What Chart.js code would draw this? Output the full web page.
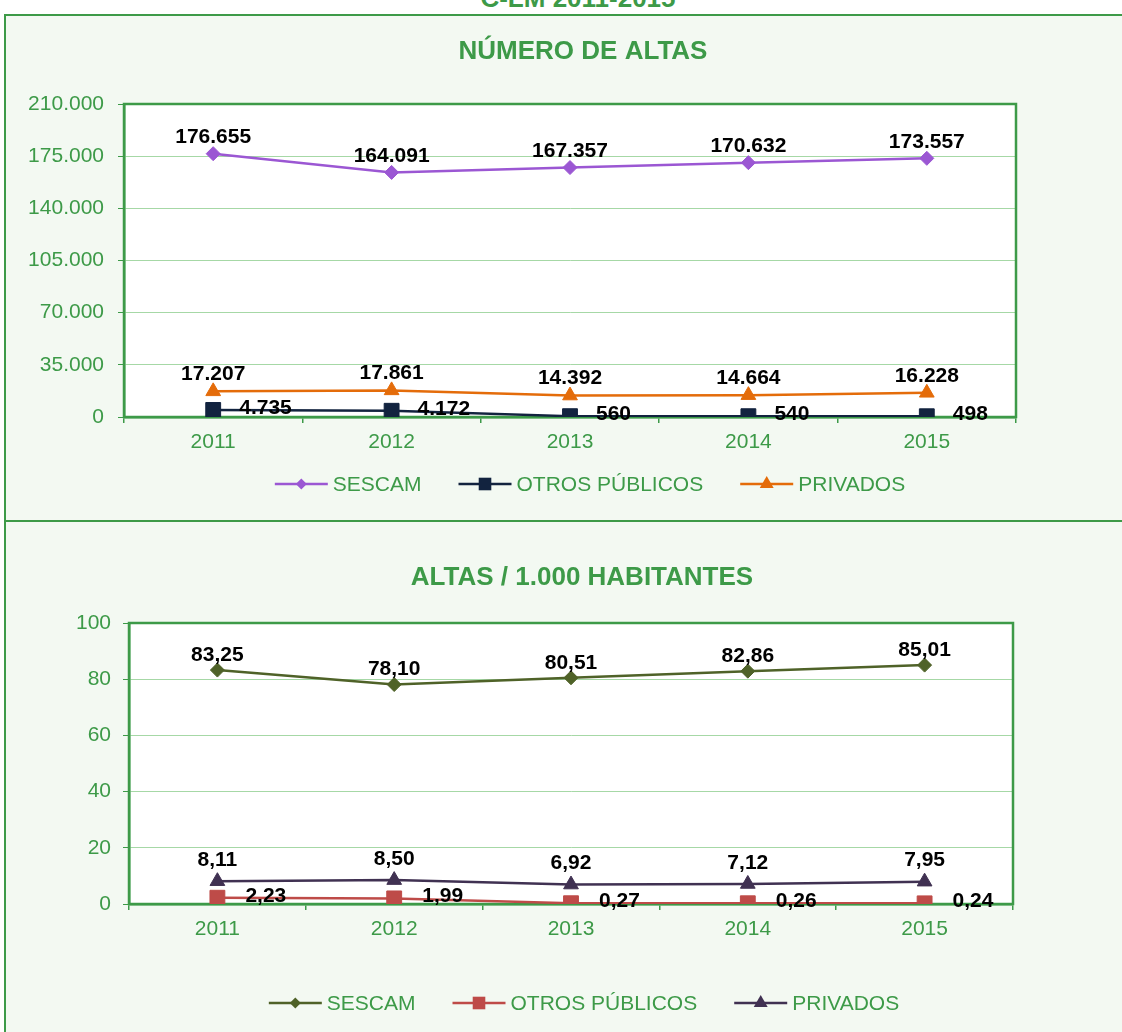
<!DOCTYPE html>
<html>
<head>
<meta charset="utf-8">
<script src="https://cdn.jsdelivr.net/npm/chart.js@4.4.0/dist/chart.umd.min.js"></script>
<style>
  body { margin: 0; width: 1122px; height: 1032px; overflow: hidden; position: relative; background: #fff;
         font-family: "Liberation Sans", Arial, Helvetica, sans-serif; }
  .panel { position: absolute; background: #f3f9f2; border: 2px solid #3d9a48; box-sizing: border-box; }
  #p1 { left: 4px; top: 14px; width: 1140px; height: 508px; }
  #p2 { left: 4px; top: 520px; width: 1140px; height: 600px; }
  #sup { position: absolute; left: 0; top: -15px; width: 1156px; text-align: center; font-weight: bold;
         font-size: 26px; line-height: 26px; color: #3d9a48; }
  canvas { position: absolute; }
  #g1 { left: 6px; top: 16px; }
  #g2 { left: 6px; top: 522px; }
</style>
</head>
<body>
<div class="panel" id="p1"></div>
<div class="panel" id="p2"></div>
<div id="sup">C-LM 2011-2015</div>
<canvas id="g1" width="1116" height="503"></canvas>
<canvas id="g2" width="1116" height="510"></canvas>

<script>
// datos
const anios = ["2011", "2012", "2013", "2014", "2015"];

// número de altas
const altasSescam = [176655, 164091, 167357, 170632, 173557];
const altasOtros = [4735, 4172, 560, 540, 498];
const altasPrivados = [17207, 17861, 14392, 14664, 16228];

// altas por 1.000 habitantes
const tasaSescam = [83.25, 78.10, 80.51, 82.86, 85.01];
const tasaOtros = [2.23, 1.99, 0.27, 0.26, 0.24];
const tasaPrivados = [8.11, 8.50, 6.92, 7.12, 7.95];

const verde = "#3d9a48";
const fuente = '"Liberation Sans", Arial, Helvetica, sans-serif';

function miles(v) {
  return String(Math.round(v)).replace(/\B(?=(\d{3})+(?!\d))/g, ".");
}
function decimales(v) {
  return v.toFixed(2).replace(".", ",");
}

// marcador para la leyenda
function marcador(ctx, estilo, x, y, r, color) {
  ctx.fillStyle = color;
  ctx.beginPath();
  if (estilo === "rectRot") {
    ctx.moveTo(x, y - r); ctx.lineTo(x + r, y); ctx.lineTo(x, y + r); ctx.lineTo(x - r, y);
  } else if (estilo === "rect") {
    ctx.rect(x - r * 0.7, y - r * 0.7, r * 1.4, r * 1.4);
  } else {
    ctx.moveTo(x, y - r); ctx.lineTo(x + r * 0.87, y + r * 0.5); ctx.lineTo(x - r * 0.87, y + r * 0.5);
  }
  ctx.closePath();
  ctx.fill();
}

const adornos = {
  id: "adornos",
  beforeDraw(chart) {
    const a = chart.chartArea, ctx = chart.ctx;
    ctx.save();
    ctx.fillStyle = "#fff";
    ctx.fillRect(a.left, a.top, a.width, a.height);
    ctx.restore();
  },
  beforeDatasetsDraw(chart) {
    const a = chart.chartArea, ctx = chart.ctx;
    ctx.save();
    ctx.strokeStyle = verde;
    ctx.lineWidth = 2.5;
    ctx.strokeRect(a.left, a.top, a.width, a.height);
    ctx.restore();
  },
  afterDatasetsDraw(chart, args, opts) {
    const ctx = chart.ctx;
    ctx.save();
    ctx.font = "bold 21px " + fuente;
    ctx.fillStyle = "#000";
    chart.data.datasets.forEach((ds, i) => {
      const meta = chart.getDatasetMeta(i);
      const et = ds.etiqueta;
      meta.data.forEach((p, j) => {
        const txt = opts.formato(ds.data[j]);
        ctx.textBaseline = "middle";
        if (et.pos === "top") {
          ctx.textAlign = "center";
          ctx.fillText(txt, p.x, p.y + et.dy);
        } else {
          ctx.textAlign = "left";
          ctx.fillText(txt, p.x + et.dx, p.y + et.dy);
        }
      });
    });
    ctx.restore();
  },
  afterDraw(chart, args, opts) {
    const ctx = chart.ctx;
    ctx.save();
    // titulo
    ctx.font = "bold 26px " + fuente;
    ctx.fillStyle = verde;
    ctx.textAlign = "center";
    ctx.textBaseline = "middle";
    ctx.fillText(opts.titulo, opts.tituloX, opts.tituloY);

    // leyenda
    ctx.font = "21px " + fuente;
    const linea = 53, hueco = 5, separa = 37;
    const items = chart.data.datasets.map(ds => ({ ds, w: ctx.measureText(ds.label).width }));
    const total = items.reduce((s, it) => s + linea + hueco + it.w, 0) + separa * (items.length - 1);
    let x = opts.leyendaX - total / 2;
    const y = opts.leyendaY;
    items.forEach(it => {
      ctx.strokeStyle = it.ds.borderColor;
      ctx.lineWidth = 2.5;
      ctx.beginPath();
      ctx.moveTo(x, y); ctx.lineTo(x + linea, y);
      ctx.stroke();
      marcador(ctx, it.ds.pointStyle, x + linea / 2, y, it.ds.rLeyenda, it.ds.borderColor);
      ctx.fillStyle = verde;
      ctx.textAlign = "left";
      ctx.fillText(it.ds.label, x + linea + hueco, y + 1);
      x += linea + hueco + it.w + separa;
    });
    ctx.restore();
  }
};

function serie(label, data, color, estilo, radio, rLeyenda, etiqueta) {
  return {
    label: label,
    data: data,
    borderColor: color,
    backgroundColor: color,
    borderWidth: 2.5,
    pointStyle: estilo,
    pointRadius: radio,
    pointBorderColor: color,
    pointBackgroundColor: color,
    pointBorderWidth: 1,
    tension: 0,
    rLeyenda: rLeyenda,
    etiqueta: etiqueta
  };
}

function opciones(cfg) {
  return {
    responsive: false,
    animation: false,
    layout: { padding: cfg.padding },
    plugins: {
      legend: { display: false },
      tooltip: { enabled: false },
      adornos: {
        titulo: cfg.titulo, tituloX: cfg.tituloX, tituloY: cfg.tituloY,
        leyendaX: cfg.leyendaX, leyendaY: cfg.leyendaY, formato: cfg.formato
      }
    },
    scales: {
      x: {
        offset: true,
        afterFit: s => { s.height = 40; },
        grid: { display: true, drawOnChartArea: false, offset: true, tickLength: 6, color: verde, lineWidth: 1.5 },
        border: { color: verde, width: 2.5 },
        ticks: { color: verde, font: { family: fuente, size: 21 }, padding: 7 }
      },
      y: {
        min: 0,
        max: cfg.max,
        afterFit: s => { s.width = 100; },
        grid: { color: "#a6d8a6", lineWidth: 1, tickLength: 6, tickColor: verde },
        border: { color: verde, width: 2.5 },
        ticks: {
          stepSize: cfg.paso,
          color: verde,
          padding: cfg.padY,
          font: { family: fuente, size: 21 },
          callback: v => miles(v)
        }
      }
    }
  };
}

new Chart(document.getElementById("g1"), {
  type: "line",
  data: {
    labels: anios,
    datasets: [
      serie("SESCAM", altasSescam, "#9b57d3", "rectRot", 7, 5.5, { pos: "top", dy: -16 }),
      serie("OTROS PÚBLICOS", altasOtros, "#12233f", "rect", 10.5, 9, { pos: "right", dx: 26, dy: -2 }),
      serie("PRIVADOS", altasPrivados, "#e46c0a", "triangle", 8.5, 8, { pos: "top", dy: -17 })
    ]
  },
  options: opciones({
    padding: { left: 18, right: 106, top: 88, bottom: 62 },
    max: 210000, paso: 35000, padY: 14,
    titulo: "NÚMERO DE ALTAS", tituloX: 577, tituloY: 36,
    leyendaX: 584, leyendaY: 468,
    formato: miles
  }),
  plugins: [adornos]
});

new Chart(document.getElementById("g2"), {
  type: "line",
  data: {
    labels: anios,
    datasets: [
      serie("SESCAM", tasaSescam, "#4f6228", "rectRot", 7, 5.5, { pos: "top", dy: -15 }),
      serie("OTROS PÚBLICOS", tasaOtros, "#be4b48", "rect", 10.5, 9, { pos: "right", dx: 28, dy: -2 }),
      serie("PRIVADOS", tasaPrivados, "#403152", "triangle", 8.5, 8, { pos: "top", dy: -21 })
    ]
  },
  options: opciones({
    padding: { left: 23, right: 109, top: 101, bottom: 88 },
    max: 100, paso: 20, padY: 12,
    titulo: "ALTAS / 1.000 HABITANTES", tituloX: 576, tituloY: 56,
    leyendaX: 578, leyendaY: 481,
    formato: decimales
  }),
  plugins: [adornos]
});
</script>
</body>
</html>
